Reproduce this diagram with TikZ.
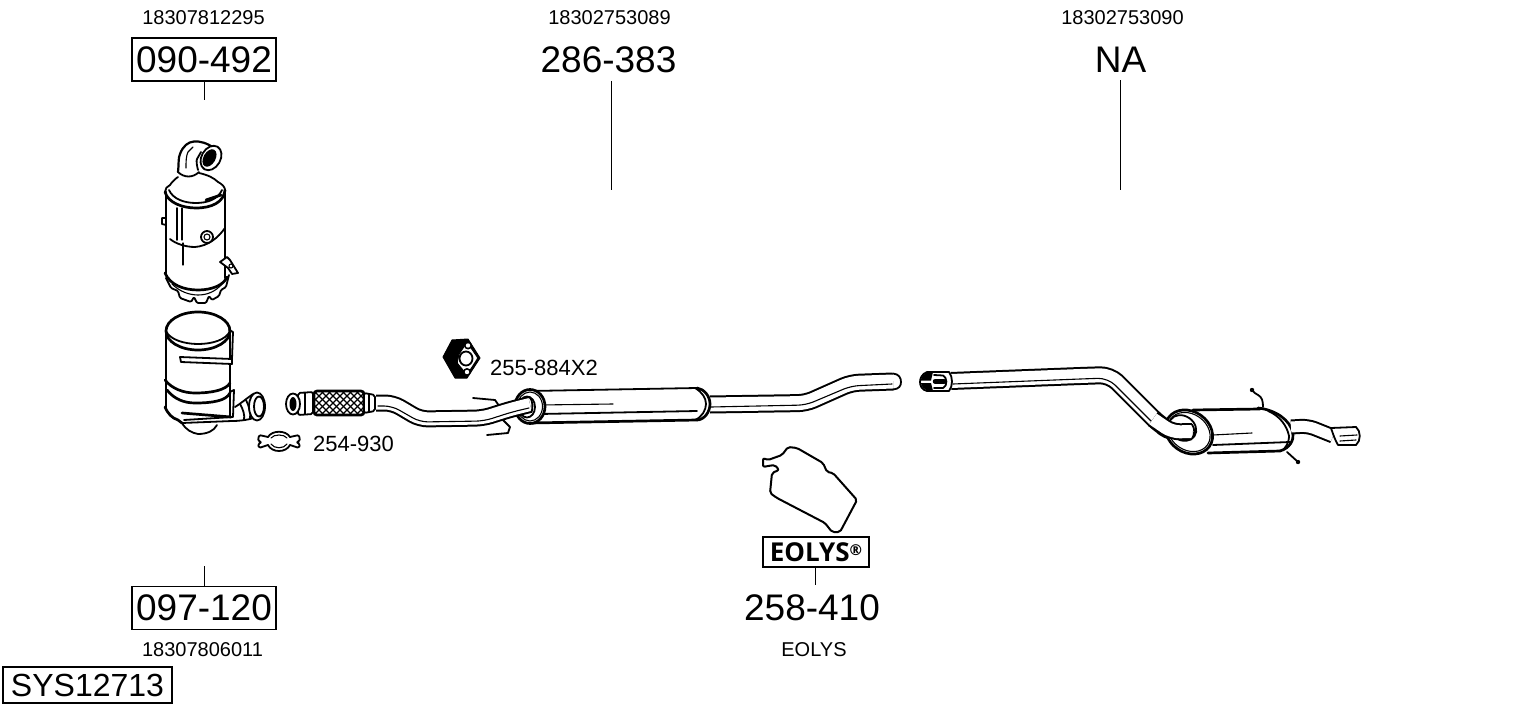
\documentclass[tikz,border=0pt]{standalone}
\usepackage{fontspec}
\setmainfont{Liberation Sans}
\newfontfamily\logofont{Open Sans}
\tikzset{
	refno/.style={inner sep=0pt, font=\fontsize{20}{22}\selectfont},
	partno/.style={inner sep=0pt, font=\fontsize{37}{40}\selectfont},
	partbox/.style={partno, rectangle, draw=black, line width=1.2pt, minimum width=144pt, minimum height=43pt},
	fitno/.style={inner sep=0pt, anchor=west, font=\fontsize{22}{24}\selectfont},
	leader/.style={draw=black, line width=1pt},
	line/.style={draw=black, line width=1.8pt, line join=round, line cap=round},
	fine/.style={draw=black, line width=1.1pt, line cap=round},
	heavy/.style={draw=black, line width=2.7pt, line join=round, line cap=round},
	pipe/.style={draw=black, line width=2pt, double=white, double distance=#1, line join=round}
}
\begin{document}
\begin{tikzpicture}[x=1pt, y=-1pt]
	\useasboundingbox (0,0) rectangle (1530,711);

	% labels
	\node[refno] (ref1) at (203.5,18){18307812295};
	\node[refno] (ref2) at (609.5,18){18302753089};
	\node[refno] (ref3) at (1122.5,18){18302753090};
	\node[refno] (ref4) at (202.5,649.5){18307806011};
	\node[refno] (ref5) at (814,649.5){EOLYS};

	\node[partbox] (cat1) at (204,59.5){090-492};
	\node[partbox] (cat2) at (204,608){097-120};
	\node[partno] (mid) at (608.5,59.5){286-383};
	\node[partno] (rear) at (1120.5,59.5){NA};
	\node[partno] (fluid) at (812,608){258-410};
	\node[partbox, minimum width=169pt, minimum height=36pt, font=\fontsize{32}{34}\selectfont] (sys) at (87.5,685){SYS12713};
	\node[fitno] (clampno) at (313,443.5){254-930};
	\node[fitno] (gasketno) at (490,368){255-884X2};
	\node[rectangle, draw=black, line width=1.4pt, minimum width=106pt, minimum height=30pt, inner sep=0pt, font=\logofont\bfseries\fontsize{26}{28}\selectfont] (logo) at (816,552){EOLYS\raisebox{6pt}{\fontsize{15}{15}\selectfont\textregistered}};

	% leaders
	\coordinate (end1) at (204,100);
	\coordinate (end2) at (611,190);
	\coordinate (end3) at (1120,190);
	\coordinate (end4) at (204,566);
	\coordinate (end5) at (815,585);
	\path[leader] (cat1.south) edge (end1);
	\path[leader] (mid.south -| end2) ++(0,8) edge (end2);
	\path[leader] (rear.south -| end3) ++(0,8) edge (end3);
	\path[leader] (cat2.north) edge (end4);
	\path[leader] (logo.south -| end5) edge (end5);

	% upper catalyst
	\draw[line, line width=2.2pt] (178,172) .. controls (179,165) and (178,158) .. (180,154) .. controls (183,146) and (188,142) .. (194,141.5) .. controls (200,141) and (207,143) .. (214,148);
	\draw[line] (198,170) .. controls (197,166) and (196,161) .. (197,159) -- (201,152);
	\draw[fine] (186,168) .. controls (186,162) and (186,156) .. (188,152) -- (193,147);
	\draw[line] (178,172) .. controls (184,178) and (193,178) .. (199,172);
	\draw[line, fill=white, rotate around={60:(211,158)}] (211,158) ellipse [x radius=13pt, y radius=9.5pt];
	\fill[rotate around={60:(209.5,158)}] (209.5,158) ellipse [x radius=9.5pt, y radius=6pt];
	\draw[line] (170,185) .. controls (172,182) and (175,179) .. (178,177);
	\draw[line] (199,173) .. controls (208,175) and (214,178) .. (218,182);
	\draw[line] (165,192) .. controls (165,189) and (167,186) .. (170,185);
	\draw[line] (218,182) .. controls (222,184) and (225,187) .. (225,190);
	\draw[heavy] (165,192) .. controls (168,203) and (183,208) .. (196,208) .. controls (212,208) and (224,202) .. (225,190);
	\draw[line] (169,190) .. controls (173,199) and (184,203) .. (196,203) .. controls (208,203) and (218,199) .. (222,190);
	\draw[heavy] (206,200) -- (221,195);
	\draw[heavy] (166,192) -- (166,275);
	\draw[heavy] (225,190) -- (225,278);
	\draw[line] (177,208) -- (177,240);
	\draw[fine] (182,208) -- (182,240);
	\draw[fine] (183,243) -- (183,265);
	\draw[line] (170,239) .. controls (176,244) and (186,247) .. (195,247) .. controls (208,246) and (218,238) .. (225,228);
	\draw[line, fill=white] (207,237) circle [radius=6pt];
	\draw[fine] (207,237) circle [radius=3pt];
	\draw[line, fill=white] (220,262) -- (227,257) -- (230,260) -- (238,273) -- (232,274) -- (228,268) -- cycle;
	\draw[fine] (231,266) circle [radius=2pt];
	\draw[line] (166,218) -- (162,218) -- (162,224) -- (166,225);
	\draw[heavy] (165,273) .. controls (170,285) and (184,290) .. (198,290) .. controls (212,290) and (224,285) .. (227,277);
	\draw[line, rounded corners=1.2pt] (166,278) -- (171,288) -- (178,291) -- (180,298) -- (191,302) -- (194,297) -- (197,303) -- (206,303) -- (209,296) -- (212,300) -- (219,296) -- (221,290) -- (226,287) -- (229,275);
	\draw[fine] (172,284) .. controls (180,292) and (190,295) .. (198,295) .. controls (208,295) and (216,291) .. (222,284);

	% lower catalyst
	\draw[heavy] (198,331) ellipse [x radius=32pt, y radius=19pt];
	\draw[line] (166,331) .. controls (170,340) and (185,344) .. (198,344) .. controls (212,344) and (226,340) .. (230,331);
	\draw[heavy] (166,331) -- (166,408);
	\draw[heavy] (230,331) -- (230,416);
	\draw[heavy] (165,380) .. controls (172,389) and (184,393) .. (195,393) .. controls (212,393) and (226,390) .. (230,383);
	\draw[heavy] (167,390) .. controls (174,399) and (184,403) .. (195,403) .. controls (212,403) and (226,401) .. (230,393);
	\draw[heavy] (165,407) .. controls (168,414) and (172,418) .. (178,420) -- (182,423);
	\draw[line] (182,423) .. controls (186,430) and (192,433) .. (198,434) .. controls (207,434) and (214,431) .. (217,425);
	\draw[line] (182,423) -- (232,421);
	\draw[line, fill=white] (180,357) -- (232,359) -- (232,364) -- (181,362) -- cycle;
	\draw[line] (229,330) -- (233,332) -- (232,359);
	\draw[heavy] (182,413) -- (231,417);
	\draw[line] (184,420) -- (233,417) -- (234,390) -- (230,392);

	% outlet elbow
	\draw[line] (235,407) .. controls (240,404) and (246,399) .. (253,394);
	\draw[line] (232,421) .. controls (240,421) and (247,420) .. (254,418);
	\draw[line] (240,404) .. controls (243,409) and (245,415) .. (244,420);
	\draw[line] (246,400) .. controls (249,406) and (251,413) .. (250,419);
	\draw[line, fill=white] (257,406.5) ellipse [x radius=8pt, y radius=14pt];
	\draw[line] (259,406.5) ellipse [x radius=5pt, y radius=10pt];

	% flex section
	\draw[line, fill=white, rounded corners=2pt] (298,393) -- (313,392) -- (313,414) -- (298,415) -- cycle;
	\draw[fine] (305,393) -- (305,414);
	\draw[line, fill=white] (293,404) ellipse [x radius=7pt, y radius=10.5pt];
	\fill (293,404) ellipse [x radius=3.5pt, y radius=7pt];
	\begin{scope}
		\clip[rounded corners=3pt] (314,391) rectangle (364,415);
		\foreach \hx in {286,293,...,370}{
			\draw[fine] (\hx,391) -- ++(24,24);
			\draw[fine] (\hx,415) -- ++(24,-24);
		}
	\end{scope}
	\draw[heavy, rounded corners=3pt] (314,391) rectangle (364,415);
	\draw[line, fill=white, rounded corners=2pt] (364,393) -- (375,395) -- (375,411) -- (364,413) -- cycle;
	\draw[fine] (369,394) -- (369,412);

	% centre silencer
	\draw[line] (530,391) -- (697,388);
	\draw[heavy] (530,423) -- (697,420);
	\draw[fine] (540,405) -- (613,404);
	\draw[line] (540,414) -- (697,411);
	\draw[heavy, fill=white] (530,406.5) ellipse [x radius=15pt, y radius=17pt];
	\draw[fine] (530,406.5) ellipse [x radius=12.5pt, y radius=14.5pt];
	\draw[line, fill=white] (527,407) ellipse [x radius=8pt, y radius=10.5pt];
	\draw[line] (473,398) -- (495,400) -- (502,410);
	\draw[line] (487,435) -- (508,433) -- (510,427) -- (503,420);

	% front pipe
	\draw[pipe=13pt, rounded corners=8pt] (376,403) -- (393,403) -- (420,419) -- (483,418) -- (510,409.5) -- (530,404.5);
	\draw[fine, rounded corners=8pt] (378,406) -- (392,406) -- (420,422) -- (484,421) -- (512,412) -- (529,408);
	\draw[line] (529.5,397) .. controls (533,400) and (533,409) .. (531.5,412);
	\draw[pipe=14pt, rounded corners=8pt] (710,404.5) -- (806,403) -- (851,383) -- (893,381.5);
	\draw[fine, rounded corners=8pt] (711,407) -- (806,405) -- (851,386) -- (892,384);
	\draw[line] (893,373.5) .. controls (899,374) and (901,378) .. (901,382) .. controls (901,386) and (899,389) .. (893,389.5);
	\draw[heavy] (697,388) .. controls (704,389) and (710,396) .. (710,404) .. controls (710,412) and (704,420) .. (697,420);
	\draw[line] (695,388) .. controls (702,392) and (706,398) .. (706,404) .. controls (706,410) and (702,417) .. (695,420);

	% rear pipe
	\draw[pipe=14pt, rounded corners=10pt] (951,381) -- (1080,376) -- (1110,375) -- (1160,425) -- (1172,432) -- (1188,431.5);
	\draw[fine, rounded corners=10pt] (953,384) -- (1080,379) -- (1108,378) -- (1158,428) -- (1172,435) -- (1186,434.5);
	\draw[line, fill=white] (949,372) -- (927,372) .. controls (922,374) and (920,378) .. (920,382) .. controls (920,386) and (922,390) .. (927,391) -- (949,391) .. controls (953,386) and (953,377) .. (949,372) -- cycle;
	\fill (921,380.5) .. controls (921,376) and (924,373) .. (930,372) -- (933,372) -- (931,380.5) -- cycle;
	\fill (921,383) .. controls (921,387) and (924,390) .. (930,391) -- (933,391) -- (931,383) -- cycle;
	\draw[line, line width=4.5pt] (935,381.5) -- (944,381.5);
	\draw[line] (934,375) -- (943,375.5) .. controls (947,377) and (948,386) .. (943,388) -- (934,388);

	% rear silencer
	\draw[heavy] (1193,410) -- (1260,409);
	\draw[heavy] (1208,453) -- (1280,451);
	\draw[heavy] (1258,408) .. controls (1276,410) and (1290,420) .. (1293,433) .. controls (1294,440) and (1290,448) .. (1280,451);
	\draw[line] (1268,411) .. controls (1280,416) and (1287,426) .. (1289,436) .. controls (1289,440) and (1288,444) .. (1284,449);
	\draw[fine] (1213,435) -- (1252,433);
	\draw[line] (1213,445) -- (1290,442);
	\draw[heavy, fill=white, rotate around={-35:(1189,432)}] (1189,432) ellipse [x radius=25pt, y radius=20.5pt];
	\draw[fine, rotate around={-35:(1189,432)}] (1189,432) ellipse [x radius=22.5pt, y radius=18pt];
	\draw[line, fill=white, rotate around={-35:(1182.5,428)}] (1182.5,428) ellipse [x radius=14.5pt, y radius=12pt];
	\draw[pipe=13pt, rounded corners=8pt] (1153,419) -- (1172,432) -- (1192,431.5);
	\draw[line] (1192,424.5) .. controls (1195,428) and (1195,435) .. (1192,438.5);
	\draw[line] (1263,407) .. controls (1263,401) and (1262,397) .. (1258,395) .. controls (1255,394) and (1254,392) .. (1252,390);
	\fill (1252,390) circle [radius=2.2pt];
	\draw[line] (1287,452) -- (1298,462);
	\fill (1298,462) circle [radius=2.2pt];

	% tail pipe
	\draw[pipe=11pt, rounded corners=7pt] (1291,427) -- (1308,426) -- (1333,436);
	\draw[line, fill=white] (1331,428) -- (1356,427) .. controls (1361,431) and (1361,441) .. (1356,445) -- (1338,445) .. controls (1335,440) and (1333,434) .. (1331,428) -- cycle;
	\draw[fine] (1340,436) -- (1357,435);
	\draw[fine] (1340,441) -- (1356,440);

	% fluid bag
	\draw[line, line width=2pt, rounded corners=2pt] (782,455) -- (788,447) -- (797,448) -- (823,463) -- (827,472) -- (833,473) -- (857,500) -- (840,532) -- (832,532) -- (825,523) -- (777,498) -- (770,493) -- (772,473) -- (779,470) -- (775,465) -- (768,466) -- (763,467) -- (763,458) -- (768,460) -- cycle;

	% flange gasket
	\fill[line join=round, draw=black, line width=1pt] (443,357) -- (452,340) -- (468,339) -- (480,358) -- (467,378) -- (455,378) -- cycle;
	\draw[fine, fill=white, rounded corners=1pt] (467,342) -- (478,358) -- (467,375) -- (457,363) -- (459,354) -- cycle;
	\draw[line, fill=white] (466,358.5) ellipse [x radius=6.5pt, y radius=7pt];
	\fill (468,345.5) circle [radius=4pt];
	\fill[white] (468,345.5) circle [radius=2.2pt];
	\fill (467,372) circle [radius=4pt];
	\fill[white] (467,372) circle [radius=2.2pt];

	% clamp
	\draw[line] (268,437) .. controls (272,430) and (286,430) .. (290,437);
	\draw[line] (268,445) .. controls (272,453) and (286,453) .. (290,445);
	\draw[fine] (271,438) .. controls (274,434) and (284,434) .. (287,438);
	\draw[fine] (271,444) .. controls (274,449) and (284,449) .. (287,444);
	\draw[line, rounded corners=1.5pt] (268,437) -- (259,435) -- (258,441) -- (262,442) -- (258,444) -- (259,448) -- (268,445);
	\draw[line, rounded corners=1.5pt] (290,437) -- (299,435) -- (300,441) -- (296,442) -- (300,444) -- (299,448) -- (290,445);
\end{tikzpicture}
\end{document}
